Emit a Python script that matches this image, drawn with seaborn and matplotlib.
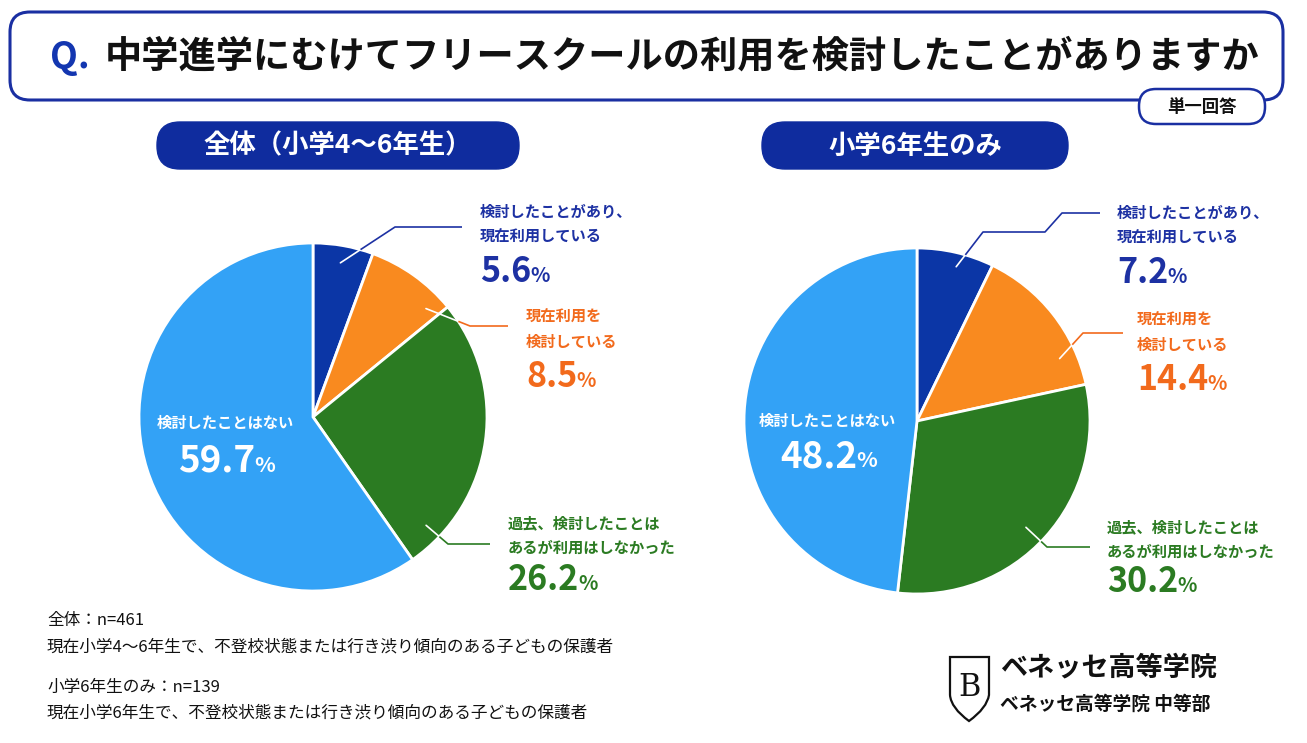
import numpy as np
import matplotlib
matplotlib.use("Agg")
import matplotlib.pyplot as plt
from matplotlib.patches import FancyBboxPatch, PathPatch
from matplotlib.path import Path
import seaborn as sns

# ---- データ ----
categories = [["検討したことがあり、", "現在利用している"],
              ["現在利用を", "検討している"],
              ["過去、検討したことは", "あるが利用はしなかった"],
              ["検討したことはない"]]
values_all = [5.6, 8.5, 26.2, 59.7]     # 全体（小学4〜6年生） n=461
values_g6 = [7.2, 14.4, 30.2, 48.2]     # 小学6年生のみ n=139
slice_colors = ["#0b36a6", "#f98a1f", "#2b7b22", "#33a2f6"]
text_colors = ["#1d31a3", "#f26a1c", "#2b7b22", "white"]

title = "中学進学にむけてフリースクールの利用を検討したことがありますか"
subtitles = ["全体（小学4〜6年生）", "小学6年生のみ"]
notes = ["全体：n=461",
         "現在小学4〜6年生で、不登校状態または行き渋り傾向のある子どもの保護者",
         "小学6年生のみ：n=139",
         "現在小学6年生で、不登校状態または行き渋り傾向のある子どもの保護者"]

sns.set_theme(style="white")
plt.rcParams["font.family"] = ["Noto Sans CJK JP", "DejaVu Sans"]

W, H = 1307, 743
NAVY = "#1a2fa2"
fig = plt.figure(figsize=(W / 100, H / 100), dpi=100)
fig.patch.set_facecolor("white")

# 全体をピクセル座標で扱うオーバーレイ
ov = fig.add_axes([0, 0, 1, 1], zorder=5)
ov.set_xlim(0, W)
ov.set_ylim(H, 0)
ov.axis("off")
ov.patch.set_alpha(0)
renderer = fig.canvas.get_renderer()


def pill(x, y, w, h, face, edge, lw, r):
    ov.add_patch(FancyBboxPatch((x, y), w, h, boxstyle=f"round,pad=0,rounding_size={r}",
                                facecolor=face, edgecolor=edge, linewidth=lw, zorder=2))


def pct(x, y, value, color, num_size, pct_size, center=False):
    t1 = ov.text(x, y, f"{value:.1f}", color=color, fontsize=num_size,
                 fontweight="bold", va="baseline", ha="left", zorder=6)
    t2 = ov.text(x, y, "%", color=color, fontsize=pct_size,
                 fontweight="bold", va="baseline", ha="left", zorder=6)
    w1 = t1.get_window_extent(renderer).width
    w2 = t2.get_window_extent(renderer).width
    x0 = x - (w1 + w2) / 2 if center else x
    t1.set_x(x0)
    t2.set_x(x0 + w1 - 1)


# タイトル枠
pill(10, 12, 1273, 88, "white", NAVY, 2.2, 20)
ov.text(50, 57, "Q.", color="#1336b0", fontsize=26, fontweight="bold", va="center", ha="left")
ov.text(105, 57, title, color="#111111", fontsize=26.8, fontweight="bold", va="center", ha="left")
pill(1139, 89, 126, 35, "white", NAVY, 1.8, 17)
ov.text(1202, 107, "単一回答", color="#111111", fontsize=12.5, fontweight="bold",
        va="center", ha="center", zorder=6)

# サブタイトル
pill(157, 122, 362, 47, "#0f2c9e", "#0f2c9e", 1, 23)
ov.text(338, 146, subtitles[0], color="white", fontsize=19, fontweight="bold",
        va="center", ha="center", zorder=6)
pill(762, 122, 306, 47, "#0f2c9e", "#0f2c9e", 1, 23)
ov.text(915, 146, subtitles[1], color="white", fontsize=19, fontweight="bold",
        va="center", ha="center", zorder=6)

# 円グラフ配置とラベル位置
pies = [
    dict(values=values_all, cx=313, cy=417, r=174,
         lead=[(0.5, 0.9), (0.85, 0.9), (0.88, 0.9)],
         kinks=[[(395, 227), (462, 227)], [(470, 326), (508, 326)], [(448, 544), (490, 544)]],
         text=[(480, 212, 282), (526, 317, 387), (508, 523, 590)],
         inner=(225, 423, 472)),
    dict(values=values_g6, cx=917, cy=421, r=173,
         lead=[(0.55, 0.92), (0.78, 0.9), (0.52, 0.88)],
         kinks=[[(983, 232), (1045, 232), (1062, 213), (1100, 213)],
                [(1083, 333), (1123, 333)], [(1047, 547), (1090, 547)]],
         text=[(1117, 213, 283), (1137, 320, 390), (1107, 527, 592)],
         inner=(827, 421, 467)),
]

for p in pies:
    cx, cy, r = p["cx"], p["cy"], p["r"]
    m = 6
    pax = fig.add_axes([(cx - r - m) / W, 1 - (cy + r + m) / H, 2 * (r + m) / W, 2 * (r + m) / H],
                       zorder=3)
    lim = (r + m) / r
    wedges, _ = pax.pie(p["values"], colors=slice_colors, startangle=90, counterclock=False,
                        wedgeprops=dict(edgecolor="white", linewidth=2.0))
    pax.set_xlim(-lim, lim)
    pax.set_ylim(-lim, lim)
    pax.axis("off")

    for i in range(3):
        w = wedges[i]
        f, rf = p["lead"][i]
        ang = np.deg2rad(w.theta2 + f * (w.theta1 - w.theta2))
        p0 = np.array([cx + rf * r * np.cos(ang), cy - rf * r * np.sin(ang)])
        p1 = np.array(p["kinks"][i][0], dtype=float)
        # 円周との交点で線を分ける（内側は白、外側は項目色）
        d = p1 - p0
        c = p0 - np.array([cx, cy])
        a_, b_, c_ = d @ d, 2 * c @ d, c @ c - r * r
        t = (-b_ + np.sqrt(b_ * b_ - 4 * a_ * c_)) / (2 * a_)
        pe = p0 + t * d
        ov.plot([p0[0], pe[0]], [p0[1], pe[1]], color="white", lw=1.2, zorder=4)
        pts = [tuple(pe)] + p["kinks"][i]
        xs, ys = zip(*pts)
        ov.plot(xs, ys, color=text_colors[i], lw=1.2, zorder=4, solid_capstyle="butt")

        tx, ty, by = p["text"][i]
        for k, line in enumerate(categories[i]):
            ov.text(tx, ty + 25 * k, line, color=text_colors[i], fontsize=11, fontweight="bold",
                    va="center", ha="left", zorder=6)
        pct(tx, by, p["values"][i], text_colors[i], 24.5, 14.5)

    ix, iy, iby = p["inner"]
    ov.text(ix, iy, categories[3][0], color="white", fontsize=11, fontweight="bold",
            va="center", ha="center", zorder=6)
    pct(ix + 2, iby, p["values"][3], "white", 26.5, 15.5, center=True)

# 注記
for txt, y in zip(notes, [620, 647, 687, 713]):
    ov.text(47, y, txt, color="#111111", fontsize=12, va="center", ha="left")

# ロゴ
shield = Path([(950, 657), (989, 657), (989, 695), (987, 708), (969, 721), (951, 708),
               (950, 695), (950, 657)],
              [Path.MOVETO, Path.LINETO, Path.LINETO, Path.CURVE3, Path.CURVE3,
               Path.CURVE3, Path.CURVE3, Path.CLOSEPOLY])
ov.add_patch(PathPatch(shield, facecolor="white", edgecolor="#111111", lw=1.6, zorder=6))
ov.text(969, 688, "B", family="DejaVu Serif", fontsize=22, color="#111111",
        va="center", ha="center", zorder=7)
ov.text(1000, 667, "ベネッセ高等学院", color="#111111", fontsize=19.5, fontweight="bold",
        va="center", ha="left")
ov.text(1000, 704, "ベネッセ高等学院 中等部", color="#111111", fontsize=13.5, fontweight="bold",
        va="center", ha="left")

plt.savefig("out.png", dpi=100, facecolor="white")
plt.close()
